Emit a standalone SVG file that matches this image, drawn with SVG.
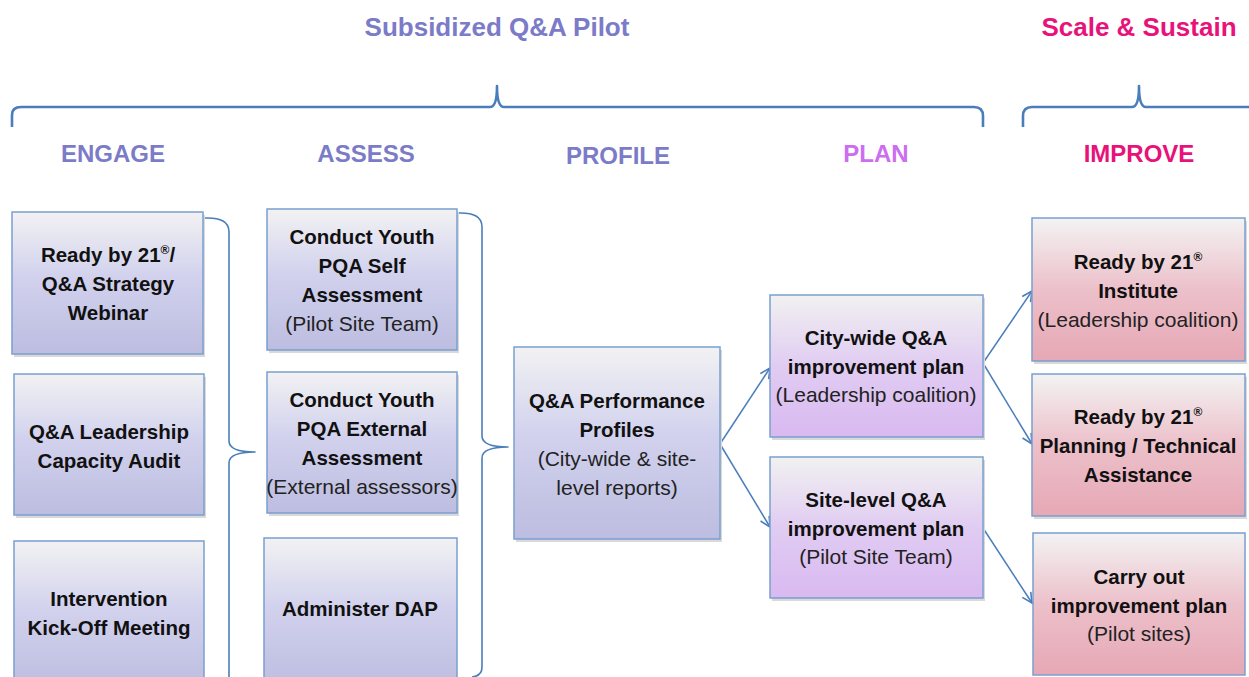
<svg xmlns="http://www.w3.org/2000/svg" width="1249" height="677" viewBox="0 0 1249 677">
<defs>
<linearGradient id="gBlue" x1="0" y1="0" x2="0" y2="1">
<stop offset="0" stop-color="#f2f2f3"/>
<stop offset="0.45" stop-color="#d2d2ee"/>
<stop offset="1" stop-color="#bcbde0"/>
</linearGradient>
<linearGradient id="gPlan" x1="0" y1="0" x2="0" y2="1">
<stop offset="0" stop-color="#f1f1f1"/>
<stop offset="0.5" stop-color="#e0ccf2"/>
<stop offset="1" stop-color="#d9b9f1"/>
</linearGradient>
<linearGradient id="gImp" x1="0" y1="0" x2="0" y2="1">
<stop offset="0" stop-color="#f3f3f3"/>
<stop offset="0.5" stop-color="#ecc0ca"/>
<stop offset="1" stop-color="#e6a8b5"/>
</linearGradient>
<marker id="arr" markerWidth="14" markerHeight="14" refX="11" refY="6" orient="auto" markerUnits="userSpaceOnUse">
<path d="M1,1 L11,6 L1,11" fill="none" stroke="#4a7ebb" stroke-width="1.6"/>
</marker>
</defs>
<style>
.box{stroke:#7b9fcf;stroke-width:1.5}
.sh{fill:#d9d9d9}
.b{font-family:"Liberation Sans",Arial,sans-serif;font-weight:bold;font-size:20.5px;fill:#111;text-anchor:middle}
.r{font-family:"Liberation Sans",Arial,sans-serif;font-size:21px;fill:#222;text-anchor:middle}
.h{font-family:"Liberation Sans",Arial,sans-serif;font-weight:bold;text-anchor:middle}
.brace{fill:none;stroke:#4a7ebb;stroke-linejoin:round}
.con{fill:none;stroke:#4a7ebb;stroke-width:1.5}
.sup{font-size:12px}
</style>
<rect width="1249" height="677" fill="#ffffff"/>

<g id="headers">
<text class="h" x="497" y="36" font-size="26" fill="#7b7bc8">Subsidized Q&amp;A Pilot</text>
<text class="h" x="1139" y="36" font-size="26" fill="#e8137a">Scale &amp; Sustain</text>
<text class="h" x="113" y="162" font-size="24" fill="#7b7bc8">ENGAGE</text>
<text class="h" x="366" y="162" font-size="24" fill="#7b7bc8">ASSESS</text>
<text class="h" x="618" y="164" font-size="24" fill="#7b7bc8">PROFILE</text>
<text class="h" x="876" y="162" font-size="24" fill="#cc6ef0">PLAN</text>
<text class="h" x="1139" y="162" font-size="24" fill="#e8137a">IMPROVE</text>
</g>

<g id="top-braces">
<path class="brace" stroke-width="2.6" d="M12,127 L12,115 Q12,107 21,107 L490,107 Q497,107 497,86 Q497,107 504,107 L974,107 Q983,107 983,116 L983,127"/>
<path class="brace" stroke-width="2.6" d="M1023,127 L1023,116 Q1023,107 1032,107 L1132,107 Q1139,107 1139,86 Q1139,107 1146,107 L1250,107"/>
</g>

<g id="connectors">
<path class="brace" stroke-width="1.6" d="M205,218 Q229,217 229,232 L229,441 Q229,452 255,452 Q229,452 229,463 L229,680"/>
<path class="brace" stroke-width="1.6" d="M458,213 Q482,212 482,227 L482,436 Q482,447 508,447 Q482,447 482,458 L482,667 Q482,676 472,677"/>
<line class="con" x1="720" y1="444" x2="770" y2="368" marker-end="url(#arr)"/>
<line class="con" x1="720" y1="444" x2="770" y2="527" marker-end="url(#arr)"/>
<line class="con" x1="983" y1="363" x2="1032" y2="291" marker-end="url(#arr)"/>
<line class="con" x1="983" y1="363" x2="1032" y2="444" marker-end="url(#arr)"/>
<line class="con" x1="983" y1="528" x2="1032" y2="603" marker-end="url(#arr)"/>
</g>

<g id="engage1">
<rect class="sh" x="14" y="215" width="191" height="142"/>
<rect class="box" x="12" y="212" width="191" height="142" fill="url(#gBlue)"/>
<text class="b" x="108" y="262">Ready by 21<tspan class="sup" dy="-8">®</tspan><tspan dy="8">/</tspan></text>
<text class="b" x="108" y="291">Q&amp;A Strategy</text>
<text class="b" x="108" y="320">Webinar</text>
</g>
<g id="engage2">
<rect class="sh" x="16" y="377" width="190" height="141"/>
<rect class="box" x="14" y="374" width="190" height="141" fill="url(#gBlue)"/>
<text class="b" x="109" y="439">Q&amp;A Leadership</text>
<text class="b" x="109" y="468">Capacity Audit</text>
</g>
<g id="engage3">
<rect class="box" x="14" y="541" width="190" height="150" fill="url(#gBlue)"/>
<text class="b" x="109" y="606">Intervention</text>
<text class="b" x="109" y="635">Kick-Off Meeting</text>
</g>

<g id="assess1">
<rect class="sh" x="269" y="212" width="190" height="141"/>
<rect class="box" x="267" y="209" width="190" height="141" fill="url(#gBlue)"/>
<text class="b" x="362" y="244">Conduct Youth</text>
<text class="b" x="362" y="273">PQA Self</text>
<text class="b" x="362" y="302">Assessment</text>
<text class="r" x="362" y="331">(Pilot Site Team)</text>
</g>
<g id="assess2">
<rect class="sh" x="269" y="375" width="190" height="141"/>
<rect class="box" x="267" y="372" width="190" height="141" fill="url(#gBlue)"/>
<text class="b" x="362" y="407">Conduct Youth</text>
<text class="b" x="362" y="436">PQA External</text>
<text class="b" x="362" y="465">Assessment</text>
<text class="r" x="362" y="494">(External assessors)</text>
</g>
<g id="assess3">
<rect class="box" x="264" y="538" width="193" height="150" fill="url(#gBlue)"/>
<text class="b" x="360" y="616">Administer DAP</text>
</g>

<g id="profile">
<rect class="sh" x="516" y="350" width="206" height="192"/>
<rect class="box" x="514" y="347" width="206" height="192" fill="url(#gBlue)"/>
<text class="b" x="617" y="408">Q&amp;A Performance</text>
<text class="b" x="617" y="437">Profiles</text>
<text class="r" x="617" y="466">(City-wide &amp; site-</text>
<text class="r" x="617" y="495">level reports)</text>
</g>

<g id="plan-city">
<rect class="sh" x="772" y="298" width="213" height="142"/>
<rect class="box" x="770" y="295" width="213" height="142" fill="url(#gPlan)"/>
<text class="b" x="876" y="345">City-wide Q&amp;A</text>
<text class="b" x="876" y="374">improvement plan</text>
<text class="r" x="876" y="402">(Leadership coalition)</text>
</g>
<g id="plan-site">
<rect class="sh" x="772" y="460" width="213" height="141"/>
<rect class="box" x="770" y="457" width="213" height="141" fill="url(#gPlan)"/>
<text class="b" x="876" y="507">Site-level Q&amp;A</text>
<text class="b" x="876" y="536">improvement plan</text>
<text class="r" x="876" y="564">(Pilot Site Team)</text>
</g>

<g id="improve1">
<rect class="sh" x="1034" y="221" width="213" height="143"/>
<rect class="box" x="1032" y="218" width="213" height="143" fill="url(#gImp)"/>
<text class="b" x="1138" y="269">Ready by 21<tspan class="sup" dy="-8">®</tspan></text>
<text class="b" x="1138" y="298">Institute</text>
<text class="r" x="1138" y="327">(Leadership coalition)</text>
</g>
<g id="improve2">
<rect class="sh" x="1034" y="377" width="213" height="142"/>
<rect class="box" x="1032" y="374" width="213" height="142" fill="url(#gImp)"/>
<text class="b" x="1138" y="424">Ready by 21<tspan class="sup" dy="-8">®</tspan></text>
<text class="b" x="1138" y="453">Planning / Technical</text>
<text class="b" x="1138" y="482">Assistance</text>
</g>
<g id="improve3">
<rect class="box" x="1033" y="533" width="212" height="142" fill="url(#gImp)"/>
<text class="b" x="1139" y="584">Carry out</text>
<text class="b" x="1139" y="613">improvement plan</text>
<text class="r" x="1139" y="641">(Pilot sites)</text>
</g>
</svg>
